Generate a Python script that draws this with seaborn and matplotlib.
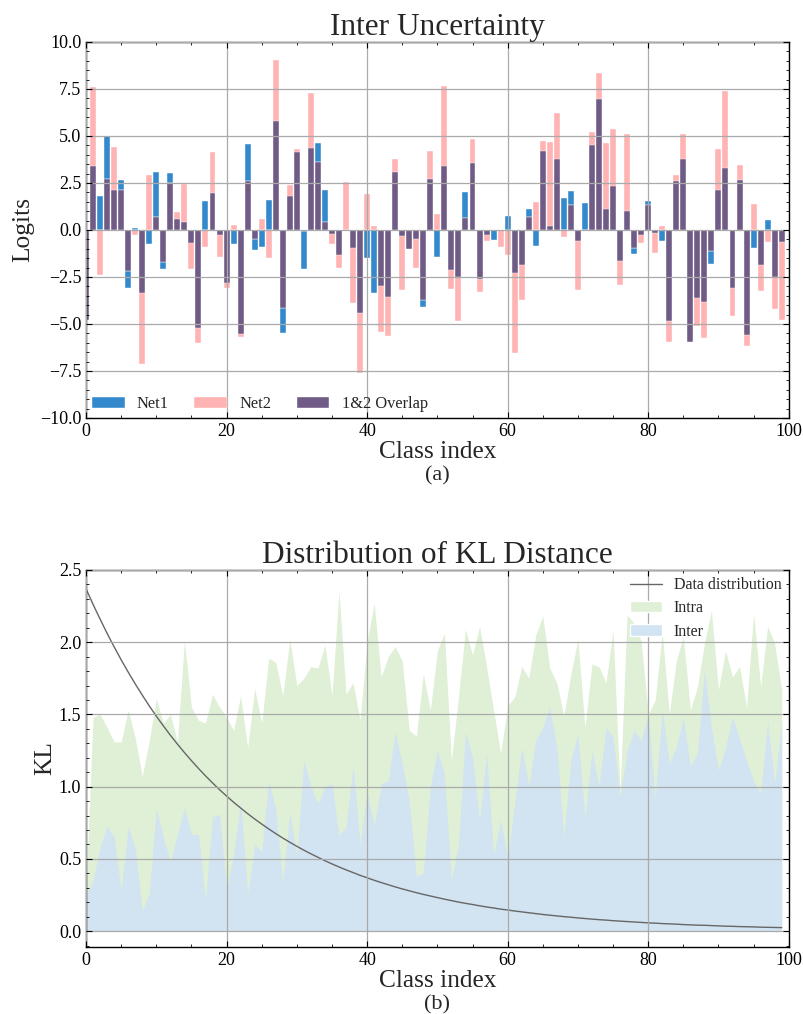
import numpy as np
import pandas as pd
import seaborn as sns
import matplotlib.pyplot as plt
from matplotlib.ticker import MultipleLocator
from matplotlib.patches import Patch
from matplotlib.lines import Line2D

# ---- data ----
classes = list(range(100))

net1 = [-4.8, 3.4, 1.8, 5.0, 2.1, 2.65, -3.1, 0.1, -3.35, -0.75,
        3.1, -2.05, 3.05, 0.6, 0.4, -0.7, -5.2, 1.55, 1.95, -0.25,
        -2.8, -0.72, -5.55, 4.55, -1.05, -0.9, 1.6, 5.8, -5.5, 1.8,
        4.15, -2.07, 4.36, 4.6, 2.15, -0.23, -1.33, 0.0, -0.97, -4.4,
        -1.5, -3.35, -2.97, -3.57, 3.1, -0.32, -1.02, -0.5, -4.1, 2.72,
        -1.45, 3.4, -2.12, -2.5, 2.03, 3.55, -2.6, -0.27, -0.53, 0.0,
        0.75, -2.3, -1.85, 1.1, -0.83, 4.2, 0.23, 3.8, 1.7, 2.08,
        -0.6, 1.43, 4.52, 6.98, 1.1, 2.35, -1.63, 1.02, -1.27, -0.27,
        1.55, -0.14, -0.58, -4.86, 2.61, 3.8, -5.95, -3.62, -3.83, -1.82,
        2.12, 3.3, -3.07, 2.65, -5.57, -0.94, -1.86, 0.53, -2.5, -0.64]

net2 = [-4.8, 7.6, -2.4, 2.7, 4.4, 2.15, -2.2, -0.25, -7.15, 2.9,
        0.7, -1.73, 2.5, 0.95, 2.45, -2.1, -6.0, -0.9, 4.15, -1.45,
        -3.1, 0.27, -5.7, 2.6, -0.5, 0.6, -1.5, 9.05, -4.15, 2.37,
        4.33, -0.05, 7.28, 3.6, 0.4, -0.72, -2.0, 2.55, -3.9, -7.6,
        1.9, 0.2, -5.45, -5.65, 3.75, -3.2, -0.99, -2.0, -3.75, 4.2,
        0.87, 7.65, -3.15, -4.85, 0.65, 4.85, -3.3, -0.6, 0.0, -0.92,
        -1.33, -6.57, -3.7, 0.7, 1.48, 4.72, 4.68, 6.22, -0.4, 1.31,
        -3.2, 0.0, 5.2, 8.35, 4.6, 5.35, -2.92, 5.12, -0.97, -0.69,
        1.34, -1.24, 0.21, -5.97, 2.92, 5.1, -5.95, -5.09, -5.74, -1.11,
        4.29, 7.37, -4.58, 3.45, -6.15, 1.38, -3.27, -0.64, -4.2, -4.77]

intra = [0.30, 1.48, 1.50, 1.41, 1.31, 1.31, 1.53, 1.34, 1.07, 1.32,
         1.61, 1.44, 1.50, 1.31, 2.01, 1.55, 1.46, 1.44, 1.64, 1.55,
         1.48, 1.39, 1.63, 1.27, 1.68, 1.44, 1.89, 1.86, 1.63, 2.02,
         1.70, 1.75, 1.83, 1.82, 1.98, 1.63, 2.35, 1.64, 1.72, 1.46,
         2.00, 2.27, 1.76, 1.90, 1.97, 1.87, 1.39, 1.35, 1.78, 1.53,
         1.94, 2.06, 1.18, 1.62, 2.09, 1.91, 2.11, 1.83, 1.53, 1.23,
         1.56, 1.62, 1.83, 1.75, 2.05, 2.18, 1.82, 1.72, 1.49, 1.78,
         2.02, 1.41, 1.85, 1.83, 1.72, 2.08, 0.97, 2.19, 2.13, 2.01,
         1.50, 1.60, 2.07, 1.50, 1.87, 2.04, 1.53, 1.69, 1.99, 2.22,
         1.67, 1.94, 1.76, 1.83, 1.55, 2.20, 1.69, 2.11, 1.99, 1.67]

inter = [0.25, 0.35, 0.58, 0.73, 0.65, 0.28, 0.72, 0.58, 0.14, 0.26,
         0.85, 0.65, 0.48, 0.67, 0.85, 0.67, 0.67, 0.21, 0.79, 0.81,
         0.29, 0.53, 0.90, 0.26, 0.60, 0.55, 1.04, 0.85, 0.34, 0.82,
         0.52, 1.18, 1.00, 0.88, 1.00, 1.02, 0.66, 0.72, 1.15, 0.60,
         0.97, 0.72, 1.02, 1.04, 1.38, 1.16, 0.90, 0.38, 0.40, 1.00,
         1.25, 1.09, 0.35, 0.60, 1.38, 1.20, 0.77, 1.23, 0.53, 0.77,
         0.51, 0.88, 1.27, 1.00, 1.32, 1.41, 1.55, 1.27, 0.65, 1.18,
         1.37, 0.78, 1.25, 1.00, 1.41, 1.34, 0.93, 1.25, 1.39, 1.32,
         1.50, 0.92, 1.53, 1.16, 1.27, 1.48, 1.14, 1.23, 1.81, 1.41,
         1.11, 1.27, 1.48, 1.33, 1.18, 1.04, 0.95, 1.45, 1.02, 1.44]

data_dist = [2.370, 2.262, 2.160, 2.061, 1.968, 1.878, 1.793, 1.711, 1.634, 1.559,
             1.488, 1.421, 1.356, 1.295, 1.236, 1.180, 1.126, 1.075, 1.026, 0.979,
             0.935, 0.892, 0.852, 0.813, 0.776, 0.741, 0.707, 0.675, 0.644, 0.615,
             0.587, 0.560, 0.535, 0.511, 0.487, 0.465, 0.444, 0.424, 0.405, 0.386,
             0.369, 0.352, 0.336, 0.321, 0.306, 0.292, 0.279, 0.266, 0.254, 0.243,
             0.232, 0.221, 0.211, 0.201, 0.192, 0.184, 0.175, 0.167, 0.160, 0.152,
             0.146, 0.139, 0.133, 0.127, 0.121, 0.115, 0.110, 0.105, 0.100, 0.096,
             0.091, 0.087, 0.083, 0.079, 0.076, 0.072, 0.069, 0.066, 0.063, 0.060,
             0.057, 0.055, 0.052, 0.050, 0.048, 0.045, 0.043, 0.041, 0.040, 0.038,
             0.036, 0.034, 0.033, 0.031, 0.030, 0.029, 0.027, 0.026, 0.025, 0.024]

c_net1 = '#3389cc'
c_net2 = '#ffb3b3'
c_overlap = '#6f5b85'
c_intra = '#dff0d6'
c_inter = '#d2e3f2'

# ---- style ----
sns.set_style('ticks')
plt.rcParams.update({
    'xtick.direction': 'in', 'ytick.direction': 'in',
    'xtick.top': True, 'ytick.right': True,
    'xtick.minor.visible': True, 'ytick.minor.visible': True,
    'xtick.major.size': 4.5, 'ytick.major.size': 4.5,
    'xtick.minor.size': 2.2, 'ytick.minor.size': 2.2,
    'xtick.major.width': 0.8, 'ytick.major.width': 0.8,
    'xtick.minor.width': 0.6, 'ytick.minor.width': 0.6,
    'axes.linewidth': 1.0, 'axes.edgecolor': 'black',
    'xtick.color': 'black', 'ytick.color': 'black',
    'axes.unicode_minus': True,
})
plt.rcParams['font.family'] = ['Liberation Serif', 'DejaVu Serif']

df = pd.DataFrame({'cls': classes, 'net1': net1, 'net2': net2})
same_sign = np.sign(df['net1']) == np.sign(df['net2'])
df['overlap'] = np.where(same_sign,
                         np.sign(df['net1']) * np.minimum(df['net1'].abs(), df['net2'].abs()),
                         0.0)

fig = plt.figure(figsize=(8.04, 10.14), dpi=100)
ax1 = fig.add_axes([0.107, 0.5878, 0.874, 0.3708])
ax2 = fig.add_axes([0.107, 0.0661, 0.874, 0.3718])

# ---- (a) Inter Uncertainty ----
for col, colr in [('net1', c_net1), ('net2', c_net2), ('overlap', c_overlap)]:
    sns.barplot(data=df, x='cls', y=col, native_scale=True, color=colr,
                saturation=1, width=0.85, errorbar=None,
                edgecolor='white', linewidth=0.3, ax=ax1)

ax1.set_xlim(0, 100)
ax1.set_ylim(-10, 10)
ax1.xaxis.set_major_locator(MultipleLocator(20))
ax1.xaxis.set_minor_locator(MultipleLocator(5))
ax1.yaxis.set_major_locator(MultipleLocator(2.5))
ax1.yaxis.set_minor_locator(MultipleLocator(0.5))
ax1.grid(True, which='major', color='#aaaaaa', linewidth=0.9)
ax1.set_axisbelow(False)
ax1.tick_params(labelsize=13)
ax1.set_title('Inter Uncertainty', fontsize=22.5, pad=5)
ax1.set_xlabel('Class index', fontsize=18.3, labelpad=1)
ax1.set_ylabel('Logits', fontsize=18.3, labelpad=4)
ax1.text(0.5, -0.128, '(a)', transform=ax1.transAxes, ha='center', va='top', fontsize=16)
handles1 = [Patch(facecolor=c_net1, edgecolor='white', linewidth=0.3, label='Net1'),
            Patch(facecolor=c_net2, edgecolor='white', linewidth=0.3, label='Net2'),
            Patch(facecolor=c_overlap, edgecolor='white', linewidth=0.3, label='1&2 Overlap')]
ax1.legend(handles=handles1, loc='lower left', ncol=3, frameon=False, fontsize=11.8,
           handlelength=2.0, handletextpad=0.75, columnspacing=1.55,
           borderaxespad=0.0, borderpad=0.35)

# ---- (b) Distribution of KL Distance ----
ax2.fill_between(classes, 0, intra, color=c_intra, linewidth=0)
ax2.fill_between(classes, 0, inter, color=c_inter, linewidth=0)
sns.lineplot(x=classes, y=data_dist, color='#666666', linewidth=1.0, ax=ax2)

ax2.set_xlim(0, 100)
ax2.set_ylim(-0.11, 2.5)
ax2.xaxis.set_major_locator(MultipleLocator(20))
ax2.xaxis.set_minor_locator(MultipleLocator(5))
ax2.yaxis.set_major_locator(MultipleLocator(0.5))
ax2.yaxis.set_minor_locator(MultipleLocator(0.1))
ax2.grid(True, which='major', color='#aaaaaa', linewidth=0.9)
ax2.set_axisbelow(False)
ax2.tick_params(labelsize=13)
ax2.set_title('Distribution of KL Distance', fontsize=22.5, pad=5)
ax2.set_xlabel('Class index', fontsize=18.3, labelpad=1)
ax2.set_ylabel('KL', fontsize=18.3, labelpad=2)
ax2.text(0.5, -0.128, '(b)', transform=ax2.transAxes, ha='center', va='top', fontsize=16)
handles2 = [Line2D([], [], color='#666666', linewidth=1.0, label='Data distribution'),
            Patch(facecolor=c_intra, label='Intra'),
            Patch(facecolor=c_inter, label='Inter')]
ax2.legend(handles=handles2, loc='upper right', frameon=False, fontsize=11.5,
           handlelength=2.0, handletextpad=0.75, borderaxespad=0.1,
           borderpad=0.35, labelspacing=0.45)

fig.savefig('out.png', dpi=100)
